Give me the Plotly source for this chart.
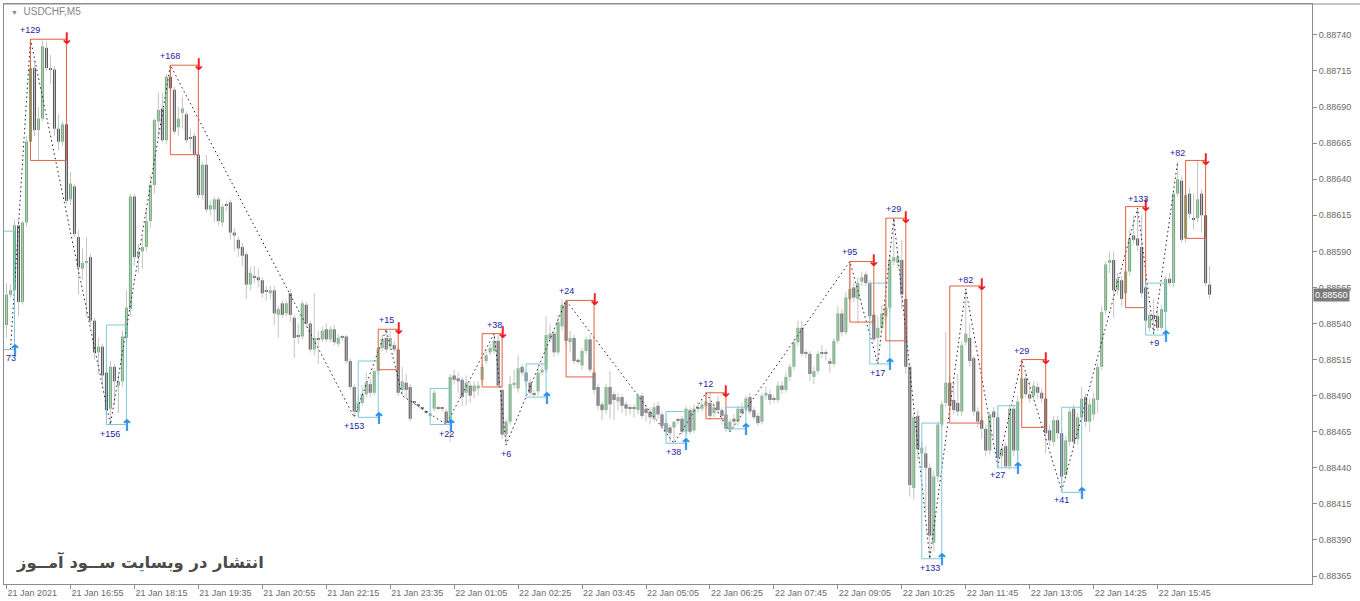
import plotly.graph_objects as go

# USDCHF, M5 candles. Prices are points above 0.88000 (1 point = 0.00001)
base = 0.88
opens = [539, 560, 563, 608, 555, 610, 666, 717, 674, 682, 731, 717, 716, 675, 666, 678, 626, 635, 600, 578,
         582, 586, 542, 520, 524, 506, 481, 510, 497, 500, 530, 550, 628, 586, 590, 593, 611, 636, 680, 689,
         667, 711, 702, 676, 686, 685, 668, 670, 657, 629, 650, 619, 619, 626, 610, 622, 624, 603, 598, 593,
         588, 567, 573, 572, 570, 563, 561, 563, 546, 554, 547, 561, 544, 531, 531, 553, 540, 522, 530, 529,
         536, 529, 536, 526, 530, 531, 514, 496, 479, 485, 491, 498, 492, 507, 523, 530, 524, 525, 522, 494,
         499, 496, 485, 483, 481, 478, 476, 481, 482, 481, 479, 471, 504, 502, 501, 492, 497, 493, 495, 501,
         514, 520, 521, 528, 494, 463, 472, 498, 495, 510, 506, 499, 491, 493, 506, 508, 529, 533, 520, 538,
         555, 527, 530, 514, 511, 521, 529, 506, 496, 484, 480, 496, 491, 486, 489, 484, 481, 481, 480, 490,
         481, 479, 474, 483, 477, 471, 468, 468, 473, 474, 465, 480, 466, 481, 481, 483, 485, 478, 486, 480,
         477, 466, 474, 472, 481, 481, 489, 480, 476, 472, 490, 491, 487, 487, 497, 494, 503, 510, 527, 537,
         519, 519, 503, 507, 519, 519, 514, 512, 528, 547, 534, 557, 565, 557, 569, 574, 568, 546, 530, 537,
         545, 551, 583, 582, 584, 557, 510, 426, 476, 450, 450, 440, 388, 434, 470, 485, 499, 487, 485, 479,
         527, 530, 516, 479, 473, 467, 452, 479, 475, 448, 455, 441, 481, 452, 488, 502, 491, 490, 496, 492,
         488, 466, 458, 473, 464, 435, 458, 481, 460, 475, 489, 472, 477, 487, 510, 549, 582, 584, 563, 570,
         561, 576, 601, 599, 593, 565, 537, 546, 545, 537, 548, 571, 568, 630, 639, 599, 630, 613, 613, 630,
         615, 567]
highs = [568, 567, 612, 612, 611, 670, 737, 722, 690, 736, 735, 726, 718, 685, 680, 680, 645, 637, 605, 592,
         600, 588, 544, 530, 526, 509, 514, 512, 505, 535, 563, 630, 630, 595, 600, 620, 643, 682, 700, 700,
         713, 719, 704, 690, 697, 687, 675, 672, 659, 652, 657, 625, 628, 628, 623, 625, 626, 606, 600, 596,
         590, 579, 580, 578, 572, 566, 566, 566, 552, 556, 556, 564, 546, 540, 556, 555, 542, 561, 535, 538,
         540, 538, 539, 533, 532, 532, 516, 498, 490, 497, 506, 502, 509, 524, 532, 536, 535, 528, 524, 510,
         505, 498, 486, 484, 482, 479, 478, 494, 483, 482, 481, 505, 508, 506, 503, 504, 500, 500, 500, 512,
         522, 526, 533, 532, 495, 474, 504, 508, 518, 512, 508, 502, 494, 510, 512, 545, 540, 535, 546, 556,
         556, 535, 532, 516, 523, 531, 532, 509, 498, 486, 498, 507, 493, 492, 491, 486, 484, 484, 492, 492,
         484, 482, 485, 486, 479, 474, 470, 472, 475, 476, 483, 482, 484, 486, 487, 492, 493, 485, 490, 482,
         479, 474, 477, 483, 485, 490, 492, 482, 478, 492, 496, 494, 490, 500, 500, 506, 512, 529, 542, 542,
         522, 521, 510, 521, 525, 522, 516, 530, 552, 550, 562, 583, 568, 572, 576, 576, 570, 548, 545, 553,
         556, 588, 613, 590, 598, 560, 512, 478, 480, 458, 455, 443, 438, 472, 486, 534, 504, 500, 505, 528,
         564, 540, 518, 482, 476, 470, 479, 482, 478, 455, 458, 484, 484, 490, 515, 506, 500, 500, 499, 495,
         492, 470, 476, 476, 467, 462, 482, 484, 478, 496, 492, 488, 492, 513, 552, 583, 590, 590, 575, 573,
         593, 605, 615, 620, 615, 568, 548, 557, 550, 553, 573, 575, 632, 652, 642, 632, 634, 630, 653, 633,
         617, 580]
lows = [530, 558, 524, 545, 553, 607, 664, 670, 653, 680, 715, 706, 670, 660, 663, 623, 622, 600, 560, 570,
        545, 539, 515, 505, 496, 476, 470, 484, 478, 496, 528, 545, 580, 575, 578, 590, 606, 630, 670, 665,
        664, 700, 671, 670, 675, 665, 660, 655, 627, 626, 617, 615, 610, 608, 607, 618, 598, 590, 586, 580,
        557, 563, 568, 565, 558, 556, 557, 539, 530, 544, 545, 541, 516, 526, 529, 537, 520, 518, 512, 527,
        527, 527, 525, 524, 528, 512, 494, 475, 476, 483, 489, 489, 490, 505, 521, 520, 522, 520, 490, 491,
        488, 472, 484, 482, 480, 477, 475, 479, 480, 479, 470, 458, 498, 492, 483, 483, 485, 488, 490, 499,
        512, 518, 519, 496, 460, 456, 470, 495, 492, 504, 496, 490, 489, 490, 504, 506, 527, 517, 518, 535,
        525, 520, 512, 512, 508, 519, 506, 491, 480, 473, 477, 474, 473, 480, 478, 476, 477, 475, 477, 474,
        472, 470, 472, 474, 467, 462, 458, 457, 470, 463, 463, 463, 464, 478, 479, 481, 473, 475, 478, 470,
        465, 465, 468, 469, 476, 479, 477, 473, 469, 470, 487, 484, 485, 485, 491, 492, 500, 508, 524, 517,
        516, 500, 498, 505, 516, 514, 506, 510, 526, 531, 532, 555, 555, 540, 566, 566, 543, 527, 512, 535,
        540, 548, 580, 578, 550, 505, 420, 418, 446, 440, 410, 377, 382, 430, 468, 482, 480, 477, 476, 476,
        525, 510, 476, 468, 460, 448, 449, 460, 440, 440, 440, 439, 448, 445, 485, 489, 485, 487, 488, 485,
        450, 455, 455, 460, 424, 432, 455, 455, 456, 472, 468, 465, 473, 478, 508, 546, 575, 544, 560, 552,
        556, 573, 595, 590, 558, 540, 534, 533, 535, 535, 546, 566, 565, 628, 596, 596, 613, 605, 610, 603,
        566, 557]
closes = [560, 563, 608, 555, 610, 666, 717, 674, 682, 732, 717, 716, 675, 666, 678, 625, 637, 602, 579, 582,
          583, 542, 520, 524, 504, 480, 510, 500, 500, 531, 551, 628, 586, 590, 593, 611, 636, 681, 688, 667,
          711, 703, 673, 682, 689, 667, 668, 657, 629, 650, 619, 622, 626, 611, 621, 622, 603, 601, 592, 587,
          567, 575, 572, 570, 561, 562, 563, 547, 550, 546, 554, 546, 530, 531, 554, 540, 522, 530, 529, 535,
          529, 536, 527, 530, 530, 514, 496, 479, 485, 491, 499, 492, 507, 523, 529, 522, 530, 522, 492, 500,
          494, 474, 485, 483, 481, 478, 477, 492, 481, 481, 471, 503, 501, 500, 489, 499, 490, 497, 497, 510,
          518, 523, 528, 497, 463, 472, 498, 499, 509, 506, 500, 492, 491, 506, 508, 532, 533, 520, 541, 553,
          528, 530, 514, 514, 521, 529, 508, 494, 483, 480, 496, 484, 487, 489, 483, 481, 481, 481, 490, 476,
          478, 475, 482, 477, 469, 465, 464, 472, 473, 465, 481, 465, 481, 481, 484, 486, 476, 482, 480, 476,
          467, 472, 472, 481, 478, 488, 479, 475, 471, 490, 492, 487, 487, 497, 494, 503, 510, 527, 537, 519,
          519, 505, 507, 519, 519, 519, 512, 528, 547, 534, 558, 564, 558, 568, 572, 568, 545, 529, 537, 547,
          551, 584, 586, 586, 560, 510, 428, 475, 453, 454, 440, 393, 434, 470, 484, 499, 483, 480, 479, 525,
          533, 514, 479, 472, 467, 452, 477, 475, 447, 453, 441, 481, 452, 486, 502, 491, 488, 497, 492, 488,
          464, 459, 473, 464, 434, 459, 479, 458, 475, 488, 472, 484, 488, 510, 548, 581, 584, 563, 571, 557,
          576, 599, 598, 594, 561, 542, 546, 543, 537, 550, 571, 568, 630, 640, 598, 629, 616, 612, 626, 615,
          568, 560]

tick_index = [0, 16, 32, 48, 64, 80, 96, 112, 128, 144, 160, 176, 192, 208, 224, 240, 256, 272, 288]
tick_labels = ["21 Jan 2021", "21 Jan 16:55", "21 Jan 18:15", "21 Jan 19:35", "21 Jan 20:55",
               "21 Jan 22:15", "21 Jan 23:35", "22 Jan 01:05", "22 Jan 02:25", "22 Jan 03:45",
               "22 Jan 05:05", "22 Jan 06:25", "22 Jan 07:45", "22 Jan 09:05", "22 Jan 10:25",
               "22 Jan 11:45", "22 Jan 13:05", "22 Jan 14:25", "22 Jan 15:45"]
price_ticks = [0.88365, 0.88390, 0.88415, 0.88440, 0.88465, 0.88490, 0.88515, 0.88540,
               0.88565, 0.88590, 0.88615, 0.88640, 0.88665, 0.88690, 0.88715, 0.88740]
last_price = 0.88560

# zigzag swing points (candle index, points above 0.88000, profit label)
zz_index = [1, 6, 26, 41, 87, 95, 99, 110, 122, 125, 140, 167, 175, 181, 211, 218, 222, 231, 240, 248,
            254, 264, 283, 287, 293]
zz_price = [522, 737, 470, 719, 475, 536, 490, 470, 533, 456, 556, 457, 492, 465, 583, 512, 613, 377, 564, 441,
            515, 424, 620, 533, 652]
zz_label = ["73", "+129", "+156", "+168", "+153", "+15", "", "+22", "+38", "+6", "+24", "+38", "+12", "",
            "+95", "+17", "+29", "+133", "+82", "+27", "+29", "+41", "+133", "+9", "+82"]

# sell (red) and buy (cyan) boxes
box_kind = ["buy", "sell", "buy", "sell", "buy", "sell", "buy", "sell", "buy", "sell", "buy", "sell",
            "buy", "sell", "buy", "sell", "buy", "sell", "buy", "sell", "buy", "sell", "buy", "sell"]
box_start = [-1, 6, 25, 41, 88, 93, 106, 119, 130, 140, 165, 175, 180, 211, 216, 220, 229, 236, 248, 254,
             264, 280, 285, 295]
box_end = [2, 15, 30, 48, 93, 98, 111, 124, 135, 147, 170, 180, 185, 217, 221, 225, 234, 244, 253, 260,
           269, 285, 290, 300]
box_top = [604, 737, 539, 719, 514, 536, 495, 533, 512, 556, 479, 492, 482, 583, 568, 613, 471, 566, 483, 515,
           482, 621, 568, 653]
box_bottom = [522, 653, 470, 657, 475, 508, 470, 496, 489, 503, 457, 474, 467, 541, 512, 528, 377, 471, 440, 468,
              423, 551, 532, 599]


def px(v):
    return base + v / 1e5


idx = list(range(len(opens)))
green = "#6cae78"
dark = "#555559"

wick_x, wick_y = [], []
for i in idx:
    wick_x += [i, i, None]
    wick_y += [px(lows[i]), px(highs[i]), None]

body_base = [px(min(o, c)) for o, c in zip(opens, closes)]
body_h = [max(abs(c - o), 0.8) / 1e5 for o, c in zip(opens, closes)]
body_col = [green if c > o else dark for o, c in zip(opens, closes)]

fig = go.Figure()
fig.add_trace(go.Scatter(x=wick_x, y=wick_y, mode="lines", line=dict(color="#c4c4c4", width=1),
                         hoverinfo="skip"))
fig.add_trace(go.Bar(x=idx, y=body_h, base=body_base, width=0.75, marker=dict(color=body_col, line_width=0),
                     hoverinfo="skip"))
fig.add_trace(go.Scatter(x=zz_index, y=[px(v) for v in zz_price], mode="lines",
                         line=dict(color="#2a1a36", width=1, dash="1.5px,3px"), hoverinfo="skip"))

for k, s, e, t, b in zip(box_kind, box_start, box_end, box_top, box_bottom):
    col = "#e4603f" if k == "sell" else "#7fc8d8"
    fig.add_shape(type="rect", x0=s, x1=e, y0=px(b), y1=px(t), xref="x", yref="y",
                  line=dict(color=col, width=1), fillcolor="rgba(0,0,0,0)")
    if k == "sell":
        fig.add_annotation(x=e, y=px(t), text="<b>↓</b>", showarrow=False, yshift=1,
                           font=dict(color="#f21c1c", size=16, family="DejaVu Sans"))
    else:
        fig.add_annotation(x=e, y=px(b), text="<b>↑</b>", showarrow=False, yshift=-1,
                           font=dict(color="#2b8fe8", size=16, family="DejaVu Sans"))

for n, (i, v, lab) in enumerate(zip(zz_index, zz_price, zz_label)):
    if not lab:
        continue
    ref = zz_price[n + 1] if n == 0 else zz_price[n - 1]
    up = v > ref
    fig.add_annotation(x=i, y=px(v), text=lab, showarrow=False, yshift=9 if up else -9,
                       font=dict(color="#1c1ca0", size=9, family="Liberation Sans"))

fig.add_annotation(x=1, y=last_price, xref="paper", yref="y", xanchor="left", xshift=1,
                   text="0.88560", showarrow=False, bgcolor="#7b7b7b", borderpad=1,
                   font=dict(color="white", size=9, family="Liberation Sans"))
fig.add_annotation(x=0.0035, y=0.987, xref="paper", yref="paper", xanchor="left", yanchor="middle",
                   text="<span style='font-size:7px'>▼</span>  USDCHF,M5", showarrow=False,
                   font=dict(color="#858585", size=10, family="Liberation Sans"))
fig.add_annotation(x=0.008, y=0.038, xref="paper", yref="paper", xanchor="left", yanchor="middle",
                   text="<b>انتشار در وبسایت ســود آمــوز</b>", showarrow=False,
                   font=dict(color="#4b4b4b", size=16.4, family="DejaVu Sans"))
fig.add_shape(type="line", xref="paper", yref="paper", x0=0, x1=1.04, y0=1, y1=1,
              line=dict(color="#8c8c8c", width=1))

# plot area is 1309 px wide, 4 px per candle; offset so bodies fall on whole pixels
fig.update_layout(
    width=1360, height=601,
    margin=dict(l=3, r=48, t=3, b=16),
    paper_bgcolor="white", plot_bgcolor="white",
    showlegend=False, hovermode=False,
    xaxis=dict(range=[-0.625, 326.625], tickvals=tick_index, ticktext=tick_labels,
               ticks="outside", ticklen=4, tickcolor="#8c8c8c", ticklabelposition="outside right",
               showgrid=False, zeroline=False, showline=True, linecolor="#8c8c8c", mirror=True,
               tickfont=dict(color="#6a6a6a", size=9, family="Liberation Sans")),
    yaxis=dict(range=[px(359.5), px(761.4)], side="right", tickvals=price_ticks, tickformat=".5f",
               ticks="outside", ticklen=4, tickcolor="#8c8c8c",
               showgrid=False, zeroline=False, showline=True, linecolor="#8c8c8c", mirror=True,
               tickfont=dict(color="#6a6a6a", size=9, family="Liberation Sans")),
)

fig.write_html("out.html", config={"displayModeBar": False},
               post_script="document.body.style.margin='0';")
